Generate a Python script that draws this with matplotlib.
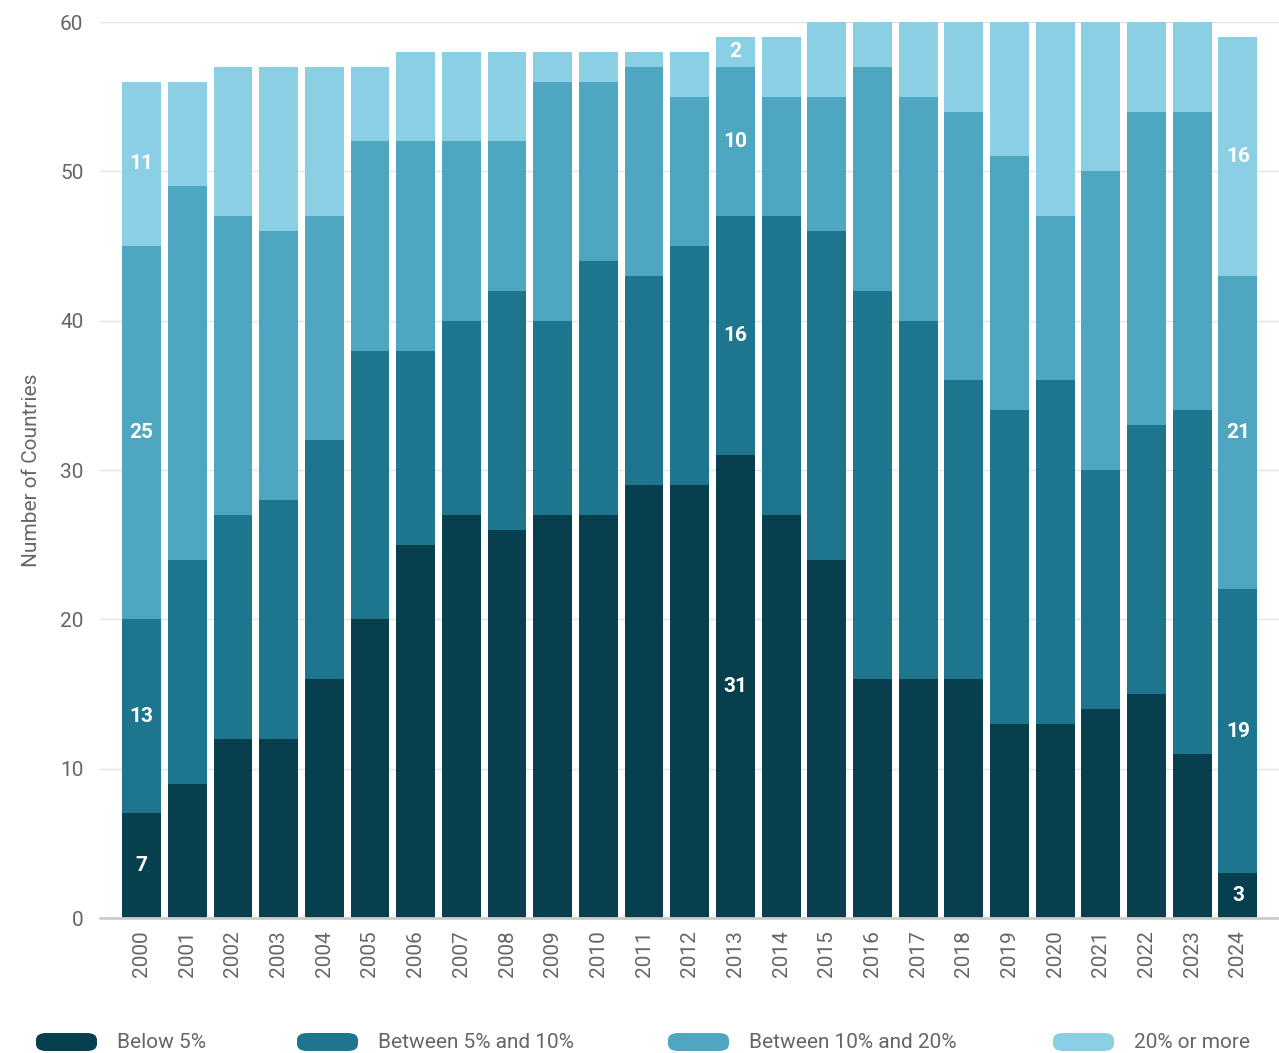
import matplotlib.pyplot as plt
import numpy as np
from matplotlib.patches import FancyBboxPatch

plt.rcParams['font.family'] = ['Roboto', 'DejaVu Sans']

years = [str(y) for y in range(2000, 2025)]
below_5 = [7, 9, 12, 12, 16, 20, 25, 27, 26, 27, 27, 29, 29, 31, 27, 24, 16, 16, 16, 13, 13, 14, 15, 11, 3]
between_5_10 = [13, 15, 15, 16, 16, 18, 13, 13, 16, 13, 17, 14, 16, 16, 20, 22, 26, 24, 20, 21, 23, 16, 18, 23, 19]
between_10_20 = [25, 25, 20, 18, 15, 14, 14, 12, 10, 16, 12, 14, 10, 10, 8, 9, 15, 15, 18, 17, 11, 20, 21, 20, 21]
over_20 = [11, 7, 10, 11, 10, 5, 6, 6, 6, 2, 2, 1, 3, 2, 4, 5, 3, 5, 6, 9, 13, 10, 6, 6, 16]

series = [below_5, between_5_10, between_10_20, over_20]
names = ['Below 5%', 'Between 5% and 10%', 'Between 10% and 20%', '20% or more']
colors = ['#073f4f', '#1e758e', '#4fa6c0', '#8bcfe4']
labelled_years = ['2000', '2013', '2024']

fig = plt.figure(figsize=(12.79, 10.53), dpi=100)
ax = fig.add_axes([0.0782, 0.1282, 0.9218, 0.8509])

x = np.arange(len(years))
bottom = np.zeros(len(years))
for vals, name, col in zip(series, names, colors):
    vals = np.array(vals)
    ax.bar(x, vals, 0.85, bottom=bottom, color=col, label=name, zorder=2)
    for i, yr in enumerate(years):
        if yr in labelled_years and vals[i] > 0:
            ax.text(x[i], bottom[i] + vals[i] / 2, str(vals[i]), ha='center', va='center',
                    color='white', fontsize=15, fontweight='bold', zorder=3)
    bottom += vals

ax.set_xlim(-0.91, len(years) - 0.1)
ax.set_ylim(0, 60)
ax.set_yticks(range(0, 61, 10))
ax.set_xticks(x)
ax.set_xticklabels(years, rotation=90)
ax.tick_params(axis='both', length=0, labelsize=15, labelcolor='#666666')
ax.tick_params(axis='x', pad=9)
ax.tick_params(axis='y', pad=12)
ax.grid(axis='y', color='#e3e3e3', linewidth=1, zorder=0)
for s in ['top', 'right', 'left']:
    ax.spines[s].set_visible(False)
ax.spines['bottom'].set_color('#cccccc')
ax.spines['bottom'].set_linewidth(2)
ax.spines['bottom'].set_zorder(4)
ax.set_ylabel('Number of Countries', fontsize=15, color='#666666', labelpad=14)

# legend spread across the bottom
leg_x = [36, 297, 668, 1053]
for lx, name, col in zip(leg_x, names, colors):
    fx = lx / 1279
    fy = (1053 - 1051) / 1053
    w = 61 / 1279
    h = 18 / 1053
    p = FancyBboxPatch((fx, fy), w, h, boxstyle='round,pad=0,rounding_size=0.008',
                       transform=fig.transFigure, facecolor=col, edgecolor='none',
                       mutation_aspect=1053 / 1279)
    fig.patches.append(p)
    fig.text((lx + 81) / 1279, (1053 - 1043) / 1053, name, ha='left', va='center',
             fontsize=15, color='#666666')

fig.savefig('out.png', dpi=100)
